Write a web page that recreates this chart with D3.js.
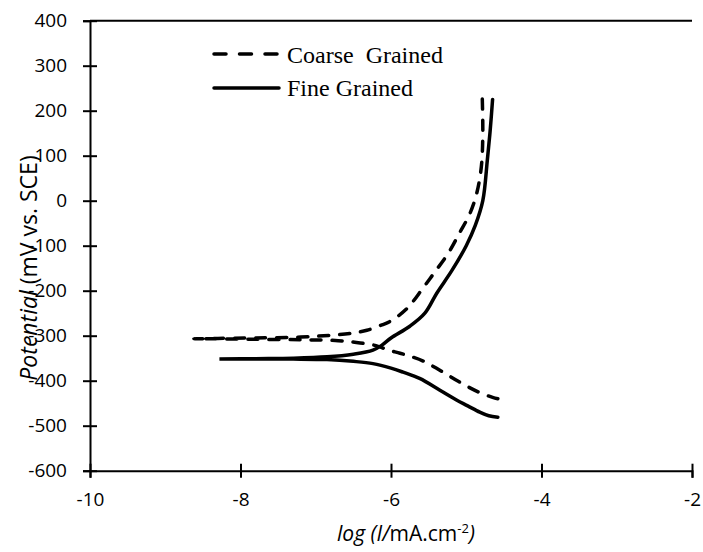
<!DOCTYPE html>
<html>
<head>
<meta charset="utf-8">
<script src="https://cdn.jsdelivr.net/npm/d3@7"></script>
<style>
  body { margin: 0; background: #fff; }
  text { font-family: "Open Sans", sans-serif; fill: #000; }
</style>
</head>
<body>
<svg id="chart"></svg>
<script>
// polarization curves, [log I, E]
// each path goes cathodic end -> left tip -> anodic end
const coarseGrained = [
  [-4.58, -440], [-4.65, -437], [-4.8, -428], [-4.95, -416], [-5.1, -402],
  [-5.24, -388], [-5.4, -372], [-5.55, -358], [-5.72, -347], [-5.88, -339],
  [-6.05, -331], [-6.2, -322], [-6.41, -316], [-6.7, -311], [-7.2, -309],
  [-7.8, -308], [-8.3, -307], [-8.62, -307],
  [-8.3, -306], [-7.8, -305], [-7.2, -303], [-6.8, -299], [-6.5, -294],
  [-6.32, -288], [-6.12, -276], [-6.01, -268], [-5.79, -240], [-5.57, -193],
  [-5.42, -159], [-5.24, -117], [-5.09, -72], [-4.95, -28], [-4.86, 17],
  [-4.8, 75], [-4.78, 150], [-4.79, 245]
];
const fineGrained = [
  [-4.58, -481], [-4.7, -478], [-4.82, -470], [-4.98, -456], [-5.13, -443],
  [-5.35, -421], [-5.62, -395], [-5.84, -381], [-6.0, -372], [-6.24, -362],
  [-6.5, -357], [-6.85, -353], [-7.3, -352], [-7.8, -352], [-8.28, -352],
  [-7.8, -351], [-7.3, -350], [-6.85, -347], [-6.5, -341], [-6.24, -332],
  [-6.12, -321], [-6.0, -305], [-5.75, -279], [-5.55, -250], [-5.39, -205],
  [-5.19, -155], [-5.0, -100], [-4.88, -55], [-4.78, 0], [-4.72, 90],
  [-4.68, 160], [-4.65, 225]
];
const seriesNames = ["Coarse  Grained", "Fine Grained"];
const xTicks = [-10, -8, -6, -4, -2];
const yTicks = [400, 300, 200, 100, 0, -100, -200, -300, -400, -500, -600];

const W = 703, H = 552;
const plotL = 90, plotR = 692, plotT = 20.7, plotB = 470.7;

const svg = d3.select("#chart").attr("width", W).attr("height", H);

const x = d3.scaleLinear().domain([-10, -2]).range([plotL, plotR]);
const y = d3.scaleLinear().domain([-600, 400]).range([plotB, plotT]);

// top border line
svg.append("line")
  .attr("x1", plotL).attr("x2", plotR)
  .attr("y1", y(400)).attr("y2", y(400))
  .attr("stroke", "#000").attr("stroke-width", 2);

// y axis
const yAxis = svg.append("g")
  .attr("transform", "translate(" + plotL + ",0)")
  .call(d3.axisLeft(y).tickValues(yTicks).tickSize(7).tickFormat(d => d.toString()));
yAxis.select(".domain").attr("stroke-width", 2);
yAxis.selectAll(".tick line").attr("x2", 7).attr("x1", -7).attr("stroke-width", 2);
yAxis.selectAll(".tick text")
  .attr("x", -23)
  .style("font-size", "19px")
  .style("font-family", "Open Sans, sans-serif");

// x axis
const xAxis = svg.append("g")
  .attr("transform", "translate(0," + plotB + ")")
  .call(d3.axisBottom(x).tickValues(xTicks).tickSize(7).tickFormat(d => d.toString()));
xAxis.select(".domain").attr("stroke-width", 2);
xAxis.selectAll(".tick line").attr("y1", -7).attr("y2", 7).attr("stroke-width", 2);
xAxis.selectAll(".tick text")
  .attr("y", 22)
  .style("font-size", "19px")
  .style("font-family", "Open Sans, sans-serif");

const line = d3.line()
  .x(d => x(d[0]))
  .y(d => y(d[1]))
  .curve(d3.curveCatmullRom);

svg.append("path")
  .datum(coarseGrained)
  .attr("d", line)
  .attr("fill", "none")
  .attr("stroke", "#000")
  .attr("stroke-width", 3.5)
  .attr("stroke-linecap", "round")
  .attr("stroke-dasharray", "10,11");

svg.append("path")
  .datum(fineGrained)
  .attr("d", line)
  .attr("fill", "none")
  .attr("stroke", "#000")
  .attr("stroke-width", 3.5)
  .attr("stroke-linecap", "round");

// legend
const legend = svg.append("g");
[["12,13.5", 54, 63], [null, 88, 96]].forEach((s, i) => {
  const l = legend.append("line")
    .attr("x1", 214).attr("x2", 279)
    .attr("y1", s[1]).attr("y2", s[1])
    .attr("stroke", "#000").attr("stroke-width", 3.5)
    .attr("stroke-linecap", "round");
  if (s[0]) l.attr("stroke-dasharray", s[0]);
  legend.append("text")
    .attr("x", 287).attr("y", s[2])
    .style("font-family", "Liberation Serif, serif")
    .style("font-size", "24px")
    .style("white-space", "pre")
    .attr("xml:space", "preserve")
    .text(seriesNames[i]);
});

// axis titles
const xt = svg.append("text")
  .attr("x", 406).attr("y", 541)
  .attr("text-anchor", "middle")
  .style("font-size", "21px");
xt.append("tspan").style("font-style", "italic").text("log (I/");
xt.append("tspan").text("mA.cm");
xt.append("tspan").attr("dy", -8).style("font-size", "13px").text("-2");
xt.append("tspan").attr("dy", 8).style("font-style", "italic").text(")");

const yt = svg.append("text")
  .attr("transform", "translate(37,268) rotate(-90)")
  .attr("text-anchor", "middle")
  .style("font-size", "23px");
yt.append("tspan").style("font-style", "italic").text("Potential");
yt.append("tspan").text(" (mV vs. SCE)");
</script>
</body>
</html>
